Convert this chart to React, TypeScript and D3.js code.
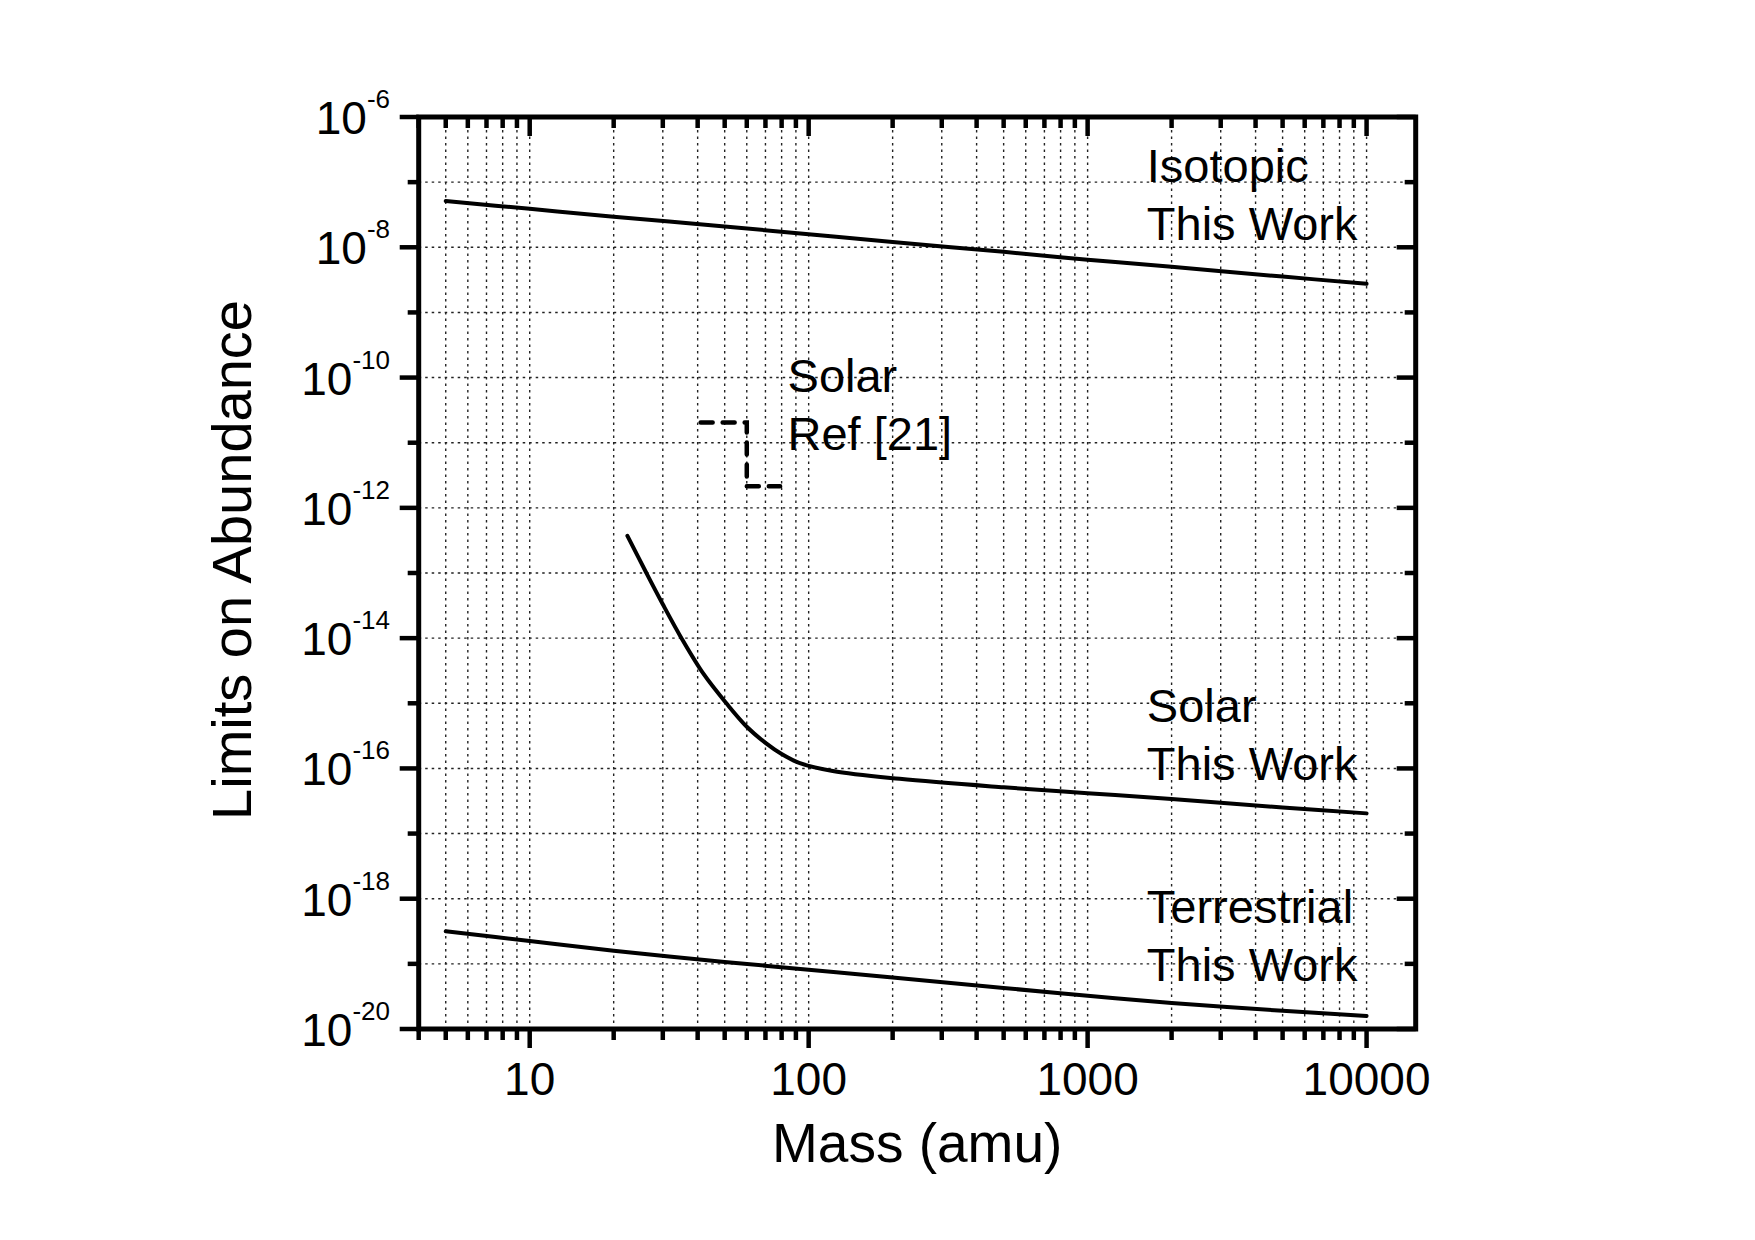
import React from 'react';
import * as d3 from 'd3';

// mass (amu) and log10 of abundance limit
const isotopicMass = [5, 10, 20, 50, 100, 200, 500, 1000, 2000, 5000, 10000];
const isotopicLog = [-7.29, -7.41, -7.53, -7.68, -7.8, -7.92, -8.07, -8.19, -8.3, -8.45, -8.56];

const solarMass = [22.4, 26.2, 30, 35, 42, 50.7, 60, 70.6, 80, 93, 122, 212, 500, 1000, 2000, 5000, 10000];
const solarLog = [-12.43, -13.0, -13.48, -14.0, -14.55, -15.0, -15.36, -15.62, -15.78, -15.92, -16.04, -16.16, -16.29, -16.38, -16.47, -16.6, -16.69];

const terrMass = [5, 10, 20, 50, 100, 200, 500, 1000, 2000, 5000, 10000];
const terrLog = [-18.5, -18.65, -18.8, -18.97, -19.09, -19.21, -19.37, -19.49, -19.6, -19.72, -19.8];

// Solar Ref [21] step
const refMass = [41, 60, 60, 79];
const refLog = [-10.69, -10.69, -11.67, -11.67];

const xLabels = [10, 100, 1000, 10000];
const yExponents = [-6, -8, -10, -12, -14, -16, -18, -20];

const labels = [
  { lines: ['Isotopic', 'This Work'], m: 1630, lg: -7.0 },
  { lines: ['Solar', 'Ref [21]'], m: 84, lg: -10.22 },
  { lines: ['Solar', 'This Work'], m: 1630, lg: -15.28 },
  { lines: ['Terrestrial', 'This Work'], m: 1630, lg: -18.38 },
];

const W = 1755;
const H = 1240;
const left = 418.7, right = 1415.7, top = 117, bottom = 1029;
const font = '"Liberation Sans", Arial, sans-serif';

export default function App() {
  const x = d3.scaleLog().domain([4, 15000]).range([left, right]);
  const y = d3.scaleLog().domain([1e-20, 1e-6]).range([bottom, top]);

  const minorX: number[] = [];
  for (let dec = 1; dec <= 10000; dec *= 10) {
    for (let k = 2; k <= 9; k++) {
      const v = dec * k;
      if (v >= 4 && v <= 15000 && !xLabels.includes(v)) minorX.push(v);
    }
  }
  const allY = d3.range(-20, -5).map((e) => Math.pow(10, e));
  const minorY = allY.filter((v) => Math.round(Math.log10(v)) % 2 !== 0);

  const line = d3
    .line<[number, number]>()
    .x((d) => x(d[0]))
    .y((d) => y(Math.pow(10, d[1])))
    .curve(d3.curveCatmullRom.alpha(0.5));
  const straight = d3
    .line<[number, number]>()
    .x((d) => x(d[0]))
    .y((d) => y(Math.pow(10, d[1])));

  const zip = (a: number[], b: number[]) => a.map((v, i) => [v, b[i]] as [number, number]);

  const gridX = [...minorX, ...xLabels].filter((v) => v > 4);
  const gridY = allY.filter((v) => v > 1e-20 && v < 1e-6);

  return (
    <svg width={W} height={H} style={{ position: 'absolute', left: 0, top: 0, background: '#fff' }}>
      <rect width={W} height={H} fill="#fff" />
      {/* grid */}
      <g stroke="#222" strokeWidth={1.4} strokeDasharray="2.5,4">
        {gridX.map((v) => (
          <line key={'gx' + v} x1={x(v)} x2={x(v)} y1={top} y2={bottom} />
        ))}
        {gridY.map((v) => (
          <line key={'gy' + v} x1={left} x2={right} y1={y(v)} y2={y(v)} />
        ))}
      </g>

      {/* curves */}
      <g fill="none" stroke="#000" strokeWidth={4} strokeLinecap="round">
        <path d={line(zip(isotopicMass, isotopicLog)) || ''} />
        <path d={line(zip(solarMass, solarLog)) || ''} />
        <path d={line(zip(terrMass, terrLog)) || ''} />
        <path d={straight(zip(refMass, refLog)) || ''} strokeWidth={4.5} strokeDasharray="12,10" />
      </g>

      {/* ticks */}
      <g stroke="#000" strokeWidth={4.5}>
        {xLabels.map((v) => (
          <g key={'xt' + v}>
            <line x1={x(v)} x2={x(v)} y1={bottom} y2={bottom + 19} />
            <line x1={x(v)} x2={x(v)} y1={top} y2={top + 19} />
          </g>
        ))}
        {minorX.map((v) => (
          <g key={'xm' + v}>
            <line x1={x(v)} x2={x(v)} y1={bottom} y2={bottom + 11} />
            <line x1={x(v)} x2={x(v)} y1={top} y2={top + 11} />
          </g>
        ))}
        {yExponents.map((e) => (
          <g key={'yt' + e}>
            <line x1={left - 19} x2={left} y1={y(Math.pow(10, e))} y2={y(Math.pow(10, e))} />
            <line x1={right - 19} x2={right} y1={y(Math.pow(10, e))} y2={y(Math.pow(10, e))} />
          </g>
        ))}
        {minorY.map((v) => (
          <g key={'ym' + v}>
            <line x1={left - 11} x2={left} y1={y(v)} y2={y(v)} />
            <line x1={right - 11} x2={right} y1={y(v)} y2={y(v)} />
          </g>
        ))}
      </g>

      {/* frame */}
      <rect x={left} y={top} width={right - left} height={bottom - top} fill="none" stroke="#000" strokeWidth={5} />

      {/* tick labels */}
      <g fontFamily={font} fill="#000">
        {xLabels.map((v) => (
          <text key={'xl' + v} x={x(v)} y={1095} fontSize={46} textAnchor="middle">
            {v}
          </text>
        ))}
        {yExponents.map((e) => (
          <text key={'yl' + e} x={390} y={y(Math.pow(10, e)) + 17} fontSize={46} textAnchor="end">
            10
            <tspan fontSize={26} dy={-26}>
              {e}
            </tspan>
          </text>
        ))}
      </g>

      {/* axis titles */}
      <text x={(left + right) / 2} y={1162} fontFamily={font} fontSize={55} textAnchor="middle">
        Mass (amu)
      </text>
      <text
        transform={`translate(251,560) rotate(-90)`}
        fontFamily={font}
        fontSize={56}
        textAnchor="middle"
      >
        Limits on Abundance
      </text>

      {/* annotations */}
      <g fontFamily={font} fontSize={47} fill="#000">
        {labels.map((l, i) => (
          <text key={'an' + i} x={x(l.m)} y={y(Math.pow(10, l.lg))}>
            <tspan x={x(l.m)}>{l.lines[0]}</tspan>
            <tspan x={x(l.m)} dy={58}>
              {l.lines[1]}
            </tspan>
          </text>
        ))}
      </g>
    </svg>
  );
}
